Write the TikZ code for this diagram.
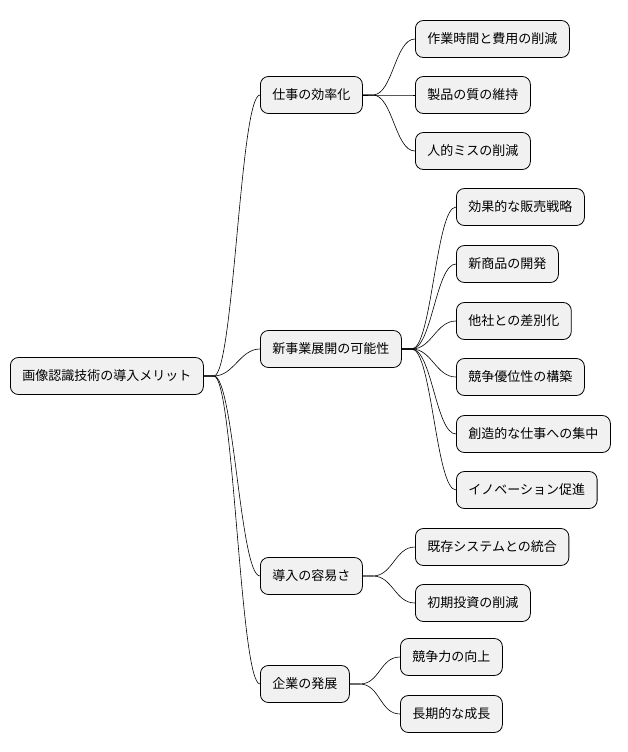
\documentclass[tikz,border=0pt]{standalone}
\usepackage{fontspec}
\setmainfont{Noto Sans CJK JP}
\begin{document}
\begin{tikzpicture}[x=1pt,y=-1pt,
 box/.style={draw=black,line width=0.8pt,fill={rgb,255:red,241;green,241;blue,241},rounded corners=8pt,minimum height=37pt,inner xsep=12pt,anchor=west,font=\fontsize{13pt}{15pt}\selectfont},
 con/.style={line width=0.6pt}]
\useasboundingbox (0,0) rectangle (628,752);
\node[box] (r) at (10,376) {画像認識技術の導入メリット};
\node[box] (a) at (260,95) {仕事の効率化};
\node[box] (b) at (260,349) {新事業展開の可能性};
\node[box] (c) at (260,576) {導入の容易さ};
\node[box] (d) at (260,684) {企業の発展};
\node[box] (a1) at (415,39) {作業時間と費用の削減};
\node[box] (a2) at (415,95) {製品の質の維持};
\node[box] (a3) at (415,151) {人的ミスの削減};
\node[box] (b1) at (456,207) {効果的な販売戦略};
\node[box] (b2) at (456,264) {新商品の開発};
\node[box] (b3) at (456,321) {他社との差別化};
\node[box] (b4) at (456,377) {競争優位性の構築};
\node[box] (b5) at (456,434) {創造的な仕事への集中};
\node[box] (b6) at (456,490) {イノベーション促進};
\node[box] (c1) at (415,547) {既存システムとの統合};
\node[box] (c2) at (415,603) {初期投資の削減};
\node[box] (d1) at (400,657) {競争力の向上};
\node[box] (d2) at (400,714) {長期的な成長};
\foreach \p/\c in {r/a,r/b,r/c,r/d,a/a1,a/a2,a/a3,b/b1,b/b2,b/b3,b/b4,b/b5,b/b6,c/c1,c/c2,d/d1,d/d2}
  \draw[con] (\p.east) -- ++(10,0) .. controls +(20,0) and +(-20,0) .. (\c.west);
\end{tikzpicture}
\end{document}
